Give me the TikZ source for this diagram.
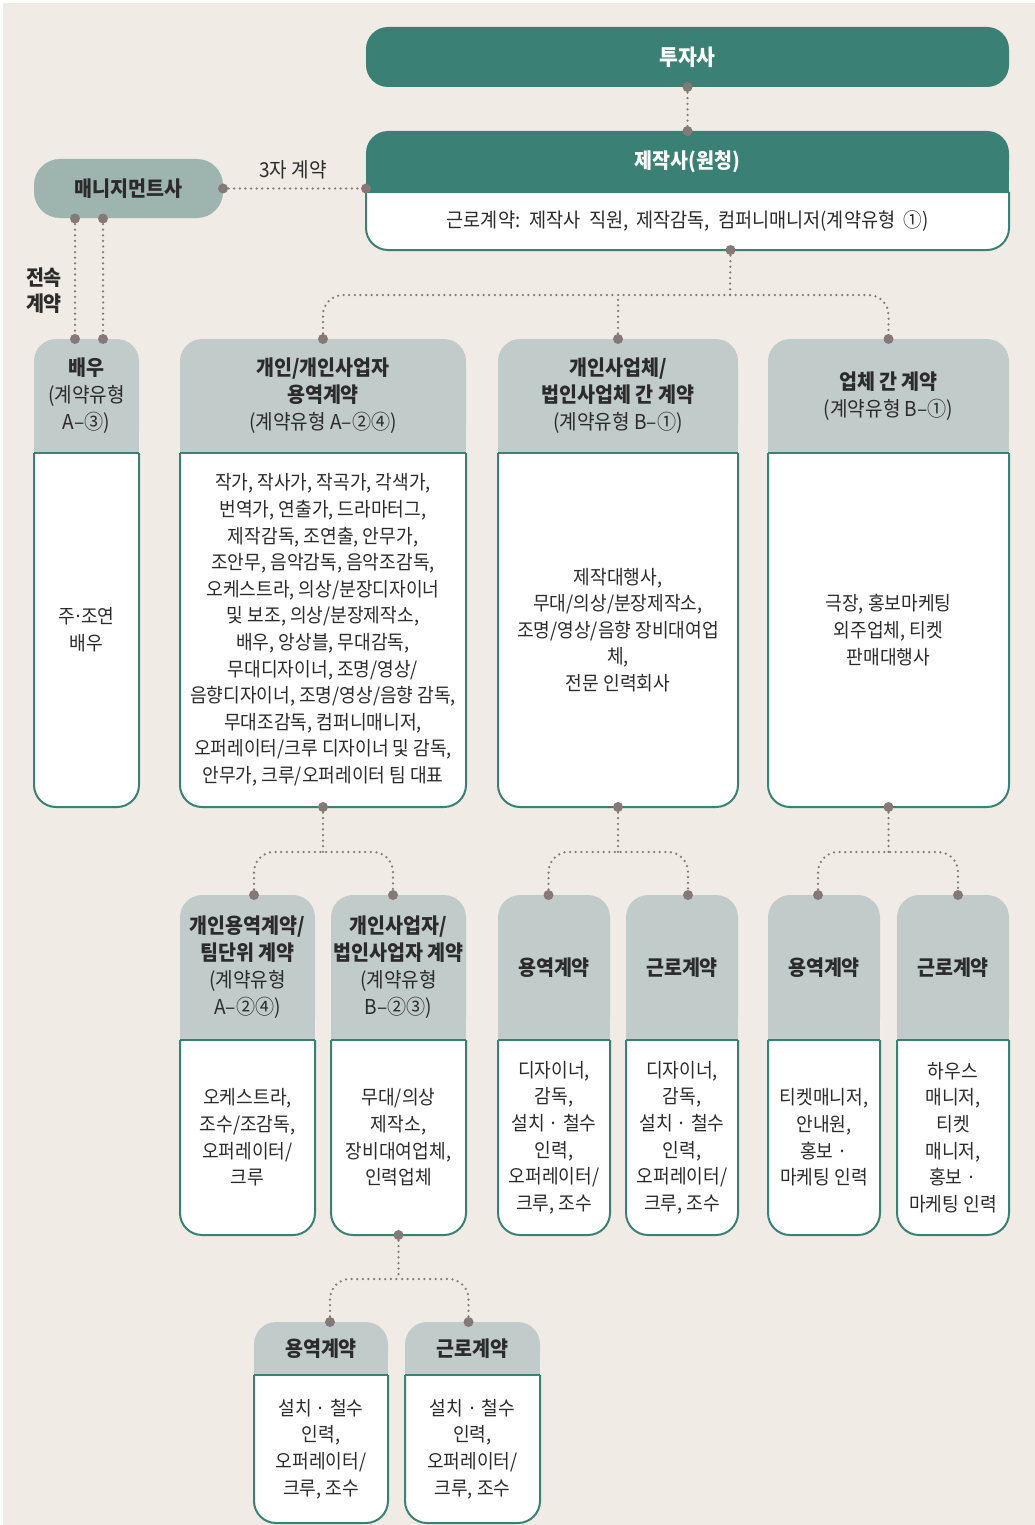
\documentclass[tikz,border=0pt]{standalone}
\usepackage{fontspec}
\setmainfont{Noto Sans CJK KR}[FakeStretch=0.93]
\usetikzlibrary{calc}
\definecolor{bgc}{HTML}{F0EBE4}
\definecolor{tealc}{HTML}{3B8074}
\definecolor{mgc}{HTML}{9DB5AE}
\definecolor{hdrc}{HTML}{C1CBC9}
\definecolor{dotc}{HTML}{857978}
\definecolor{txtc}{HTML}{2B2B2B}
\newcommand\hb[1]{{\bfseries\fontsize{21}{27}\selectfont #1}}
\tikzset{
  bounds/.style={rectangle, inner sep=0pt, outer sep=0pt, draw=none},
  frame/.style={draw=tealc, line width=2pt},
  conn/.style={draw=dotc, line width=2.5pt, line cap=round, dash pattern=on 0pt off 5.6pt},
  htext/.style={font=\fontsize{20.5}{27}\selectfont, text=txtc, align=center, inner sep=0pt},
  btext/.style={font=\fontsize{19.5}{26.6}\selectfont, text=txtc, align=center, inner sep=0pt},
  whitetext/.style={font=\bfseries\fontsize{21}{26}\selectfont, text=white, align=center, inner sep=0pt},
}
% name, x1, x2, ytop, ymid, ybot, header, body, header colour
\newcommand\cbox[9]{%
  \node[bounds, minimum width={(#3-#2)*1pt}, minimum height={(#6-#4)*1pt}] (#1) at ({(#2+#3)/2},{(#4+#6)/2}) {};
  \fill[white, rounded corners=22pt] (#2,#4) rectangle (#3,#6);
  \fill[#9, rounded corners=22pt] (#2,#4) rectangle (#3,#5);
  \fill[#9] (#2,{#5-23}) rectangle (#3,#5);
  \draw[frame, rounded corners=22pt] (#2,#5) -- (#2,#6) -- (#3,#6) -- (#3,#5);
  \draw[frame] (#2,#5) -- (#3,#5);
  \node[htext] (#1h) at ({(#2+#3)/2},{(#4+#5)/2}) {#7};
  \node[btext] (#1b) at ({(#2+#3)/2},{(#5+#6)/2}) {#8};
}
\newcommand\jdot[1]{\fill[dotc] (#1) circle (5);}
\begin{document}
\begin{tikzpicture}[x=1pt, y=-1pt]
\useasboundingbox (0,0) rectangle (1035,1525);
\fill[white] (0,0) rectangle (1035,1525);
\fill[bgc] (3,3) rectangle (1035,1525);

% top boxes
\node[bounds, minimum width=643pt, minimum height=60pt] (tz) at (687.5,57) {};
\fill[tealc, rounded corners=22pt] (366,27) rectangle (1009,87);
\node[whitetext, font=\bfseries\fontsize{22}{26}\selectfont] (tzt) at (tz) {투자사};

\cbox{jk}{366}{1009}{131}{192}{250}{\textcolor{white}{\hb{제작사(원청)}}}{{\fontsize{20}{26}\selectfont\spaceskip=8pt plus 2pt 근로계약: 제작사 직원, 제작감독, 컴퍼니매니저(계약유형 ①)}}{tealc}

\node[bounds, minimum width=189pt, minimum height=60pt] (mg) at (128.5,188.5) {};
\fill[mgc, rounded corners=26pt] (34,159) rectangle (223,218);
\node[htext] (mgt) at (mg) {\hb{매니지먼트사}};

% row 1
\cbox{b0}{34}{139}{339}{453}{807}{\hb{배우}\\(계약유형\\A–③)}{주\makebox[6pt]{·}조연\\배우}{hdrc}
\cbox{b1}{180}{466}{339}{453}{807}{\hb{개인/개인사업자}\\\hb{용역계약}\\(계약유형 A–②④)}{작가, 작사가, 작곡가, 각색가,\\번역가, 연출가, 드라마터그,\\제작감독, 조연출, 안무가,\\조안무, 음악감독, 음악조감독,\\오케스트라, 의상/분장디자이너\\및 보조, 의상/분장제작소,\\배우, 앙상블, 무대감독,\\무대디자이너, 조명/영상/\\음향디자이너, 조명/영상/음향 감독,\\무대조감독, 컴퍼니매니저,\\오퍼레이터/크루 디자이너 및 감독,\\안무가, 크루/오퍼레이터 팀 대표}{hdrc}
\cbox{b2}{498}{738}{339}{453}{807}{\hb{개인사업체/}\\\hb{법인사업체 간 계약}\\(계약유형 B–①)}{제작대행사,\\무대/의상/분장제작소,\\조명/영상/음향 장비대여업\\체,\\전문 인력회사}{hdrc}
\cbox{b3}{768}{1009}{339}{453}{807}{\hb{업체 간 계약}\\(계약유형 B–①)}{극장, 홍보마케팅\\외주업체, 티켓\\판매대행사}{hdrc}

% row 2
\cbox{c1}{180}{315}{895}{1040}{1235}{\hb{개인용역계약/}\\\hb{팀단위 계약}\\(계약유형\\A–②④)}{오케스트라,\\조수/조감독,\\오퍼레이터/\\크루}{hdrc}
\cbox{c2}{331}{466}{895}{1040}{1235}{\hb{개인사업자/}\\\hb{법인사업자 계약}\\(계약유형\\B–②③)}{무대/의상\\제작소,\\장비대여업체,\\인력업체}{hdrc}
\cbox{c3}{498}{610}{895}{1040}{1235}{\hb{용역계약}}{디자이너,\\감독,\\설치 · 철수\\인력,\\오퍼레이터/\\크루, 조수}{hdrc}
\cbox{c4}{626}{738}{895}{1040}{1235}{\hb{근로계약}}{디자이너,\\감독,\\설치 · 철수\\인력,\\오퍼레이터/\\크루, 조수}{hdrc}
\cbox{c5}{768}{880}{895}{1040}{1235}{\hb{용역계약}}{티켓매니저,\\안내원,\\홍보 ·\\마케팅 인력}{hdrc}
\cbox{c6}{897}{1009}{895}{1040}{1235}{\hb{근로계약}}{하우스\\매니저,\\티켓\\매니저,\\홍보 ·\\마케팅 인력}{hdrc}

% row 3
\cbox{e1}{254}{388}{1322}{1375}{1523}{\hb{용역계약}}{설치 · 철수\\인력,\\오퍼레이터/\\크루, 조수}{hdrc}
\cbox{e2}{405}{540}{1322}{1375}{1523}{\hb{근로계약}}{설치 · 철수\\인력,\\오퍼레이터/\\크루, 조수}{hdrc}

% labels
\node[btext, font=\fontsize{20.5}{26}\selectfont] (l3) at (293,170) {3자 계약};
\node[htext, font=\bfseries\fontsize{21}{26}\selectfont] (ljs) at (44,291) {전속\\계약};

% connectors: top
\draw[conn] (tz.south) -- (jk.north);
\jdot{tz.south}\jdot{jk.north}
\coordinate (mge) at (mg.east);
\coordinate (jkw) at (mg.east -| jk.west);
\draw[conn] (mge) -- (jkw);
\jdot{mge}\jdot{jkw}

\coordinate (ma) at ([xshift=41pt]mg.south west);
\coordinate (mb) at ([xshift=69pt]mg.south west);
\coordinate (ba) at ([xshift=41pt]b0.north west);
\coordinate (bb) at ([xshift=69pt]b0.north west);
\draw[conn] (ma) -- (ba);
\draw[conn] (mb) -- (bb);
\jdot{ma}\jdot{mb}\jdot{ba}\jdot{bb}

% jk -> row 1
\coordinate (j0) at ([xshift=43pt]jk.south);
\coordinate (h0) at (730,295);
\draw[conn] (j0) -- (h0);
\draw[conn, rounded corners=20pt] (b1.north) |- (h0) -| (b3.north);
\draw[conn] (b2.north) -- (b2.north |- h0);
\jdot{j0}\jdot{b1.north}\jdot{b2.north}\jdot{b3.north}

% b1 -> c1, c2
\coordinate (h1) at ([yshift=-45pt]b1.south);
\coordinate (d11) at ([xshift=6.5pt]c1.north);
\coordinate (d12) at ([xshift=-5.5pt]c2.north);
\draw[conn] (b1.south) -- (h1);
\draw[conn, rounded corners=20pt] (d11) |- (h1) -| (d12);
\jdot{b1.south}\jdot{d11}\jdot{d12}

% b2 -> c3, c4
\coordinate (h2) at ([yshift=-45pt]b2.south);
\coordinate (d21) at ([xshift=-5.5pt]c3.north);
\coordinate (d22) at ([xshift=6pt]c4.north);
\draw[conn] (b2.south) -- (h2);
\draw[conn, rounded corners=20pt] (d21) |- (h2) -| (d22);
\jdot{b2.south}\jdot{d21}\jdot{d22}

% b3 -> c5, c6
\coordinate (h3) at ([yshift=-45pt]b3.south);
\coordinate (d31) at ([xshift=-6pt]c5.north);
\coordinate (d32) at ([xshift=5pt]c6.north);
\draw[conn] (b3.south) -- (h3);
\draw[conn, rounded corners=20pt] (d31) |- (h3) -| (d32);
\jdot{b3.south}\jdot{d31}\jdot{d32}

% c2 -> e1, e2
\coordinate (h4) at ([yshift=-44pt]c2.south);
\coordinate (d41) at ([xshift=9pt]e1.north);
\coordinate (d42) at ([xshift=-4pt]e2.north);
\draw[conn] (c2.south) -- (h4);
\draw[conn, rounded corners=20pt] (d41) |- (h4) -| (d42);
\jdot{c2.south}\jdot{d41}\jdot{d42}
\end{tikzpicture}
\end{document}
